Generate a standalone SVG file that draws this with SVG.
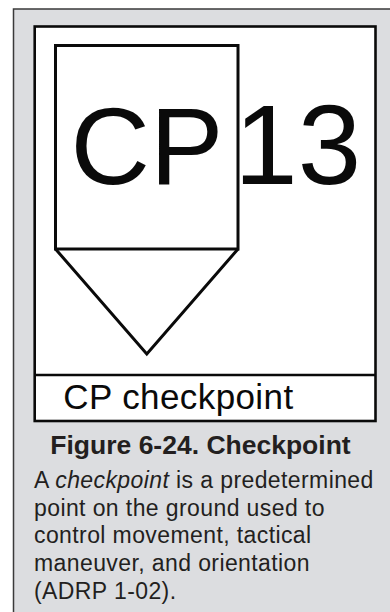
<svg xmlns="http://www.w3.org/2000/svg" width="390" height="612" viewBox="0 0 390 612">
  <style>
    .sym { fill: none; stroke: #0a0a0a; stroke-width: 3; stroke-linejoin: miter; }
    .big { font-family: "Liberation Sans", Arial, sans-serif; fill: #0a0a0a; }
    .cap { font-family: "Liberation Sans", Arial, sans-serif; font-weight: bold; fill: #231f20; }
    .body { font-family: "Liberation Sans", Arial, sans-serif; font-size: 23px; fill: #231f20; letter-spacing: 0.4px; }
  </style>
  <rect id="panel" x="13.5" y="9" width="400" height="620" fill="#dcdde0" stroke="#3a3a3a" stroke-width="1.5"/>
  <g id="frame">
    <rect x="34.7" y="26.5" width="340.8" height="394.5" fill="#ffffff" stroke="#0a0a0a" stroke-width="2.6"/>
    <line x1="34.7" y1="375" x2="375.5" y2="375" stroke="#0a0a0a" stroke-width="2.5"/>
  </g>
  <g id="checkpoint-symbol">
    <rect class="sym" x="55.5" y="45.5" width="182.5" height="203.5"/>
    <polyline class="sym" points="55.5,249 146.8,354 238,249"/>
    <text class="big" x="70.6" y="183.5" font-size="110">CP</text>
    <text class="big" x="234.3" y="184" font-size="114">13</text>
  </g>
  <g id="label">
    <text class="big" x="63.3" y="408.5" font-size="35" letter-spacing="0.4">CP checkpoint</text>
  </g>
  <g id="caption">
    <text class="cap" x="200.5" y="454" font-size="26.5" text-anchor="middle">Figure 6-24. Checkpoint</text>
  </g>
  <g id="definition">
    <text class="body" x="34" y="488">A <tspan font-style="italic">checkpoint</tspan> is a predetermined</text>
    <text class="body" x="34" y="516">point on the ground used to</text>
    <text class="body" x="34" y="543">control movement, tactical</text>
    <text class="body" x="34" y="571">maneuver, and orientation</text>
    <text class="body" x="34" y="599">(ADRP 1-02).</text>
  </g>
</svg>
